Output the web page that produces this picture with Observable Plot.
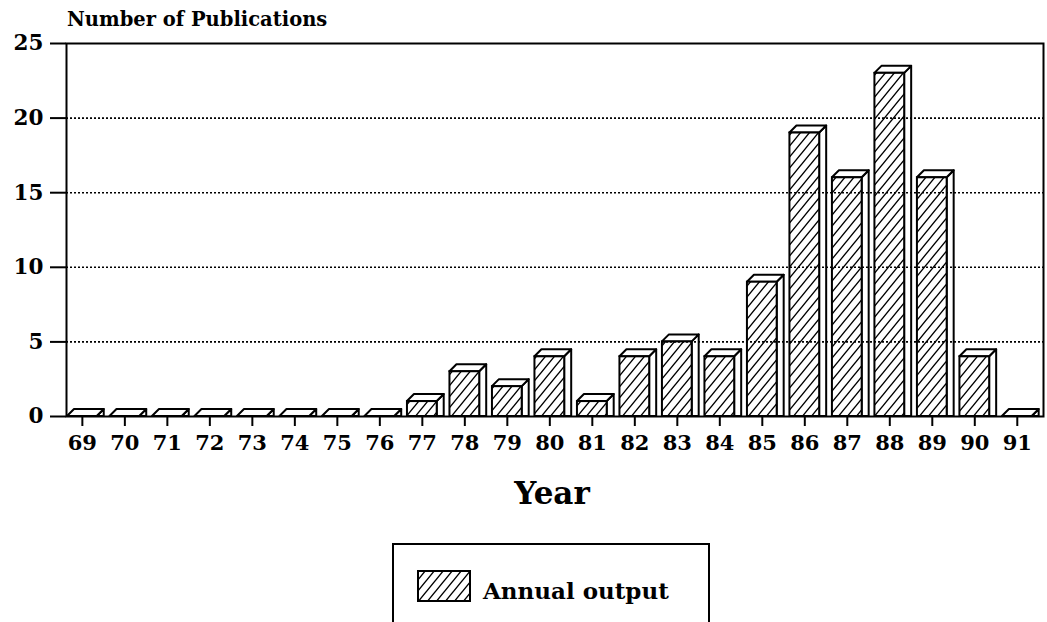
<!DOCTYPE html>
<html><head><meta charset="utf-8">
<script src="https://cdn.jsdelivr.net/npm/d3@7"></script>
<script src="https://cdn.jsdelivr.net/npm/@observablehq/plot@0.6"></script>
<style>
html,body{margin:0;padding:0;background:#fff;}
body{width:1047px;height:622px;overflow:hidden;position:relative;font-family:"DejaVu Serif",serif;font-weight:bold;color:#000;}
#chart{position:absolute;left:0;top:0;}
.lbl{position:absolute;line-height:1;white-space:nowrap;}
#title{left:67px;top:10px;font-size:19.5px;}
#xtitle{left:452px;width:200px;text-align:center;top:478px;font-size:31px;}
#legend{position:absolute;left:392px;top:543px;width:314px;height:120px;border:2px solid #000;}
#swatch{position:absolute;left:417px;top:570px;}
#legendText{left:483px;top:579px;font-size:23px;}
</style></head>
<body>
<div id="chart"></div>
<div id="title" class="lbl"></div>
<div id="xtitle" class="lbl"></div>
<div id="legend"></div>
<svg id="swatch" width="54" height="32"></svg>
<div id="legendText" class="lbl"></div>
<script>
// ---- data ----
const years = ["69","70","71","72","73","74","75","76","77","78","79","80","81","82","83","84","85","86","87","88","89","90","91"];
const counts = [0,0,0,0,0,0,0,0,1,3,2,4,1,4,5,4,9,19,16,23,16,4,0];
const yTicks = [0,5,10,15,20,25];
const gridValues = [5,10,15,20];
const yTitle = "Number of Publications";
const xTitle = "Year";
const seriesLabel = "Annual output";

const data = years.map((year, i) => ({year, count: counts[i]}));
const DEPTH = 7;

function hatchPattern(sel, id) {
  const w = 9, h = 11;
  const p = sel.append("defs").append("pattern")
    .attr("id", id).attr("patternUnits", "userSpaceOnUse")
    .attr("width", w).attr("height", h);
  p.append("rect").attr("width", w).attr("height", h).attr("fill", "white");
  let d = "";
  for (const c of [0, 1, 2]) d += `M${c*w + w},${-h}L${c*w - 2*w},${2*h}`;
  p.append("path").attr("d", d).attr("stroke", "black").attr("stroke-width", 1.4);
}

function depthFaces(index, scales) {
  const {x, y} = scales;
  const bw = x.bandwidth();
  const g = d3.create("svg:g");
  hatchPattern(g, "hatch");
  const y0 = y(0);
  for (const d of data) {
    const x1 = x(d.year), x2 = x1 + bw, yt = y(d.count);
    g.append("path")
      .attr("d", `M${x2},${yt}L${x2+DEPTH},${yt-DEPTH}L${x2+DEPTH},${y0}L${x2},${y0}Z`)
      .attr("fill", "white").attr("stroke", "black").attr("stroke-width", 2).attr("stroke-linejoin", "round");
    g.append("path")
      .attr("d", `M${x1},${yt}L${x1+DEPTH},${yt-DEPTH}L${x2+DEPTH},${yt-DEPTH}L${x2},${yt}Z`)
      .attr("fill", "white").attr("stroke", "black").attr("stroke-width", 2).attr("stroke-linejoin", "round");
  }
  return g.node();
}

const chart = Plot.plot({
  width: 1047,
  height: 622,
  marginLeft: 66,
  marginRight: 4,
  marginTop: 43,
  marginBottom: 206,
  style: {fontFamily: "DejaVu Serif", fontWeight: "bold", fontSize: "21px", color: "black", background: "white"},
  x: {type: "band", domain: years, paddingInner: 0.3, paddingOuter: 0.145, align: 0.08, round: false, label: null},
  y: {domain: [0, 25], label: null},
  marks: [
    depthFaces,
    Plot.barY(data, {x: "year", y: "count", fill: "url(#hatch)", stroke: "black", strokeWidth: 2}),
    Plot.ruleY(gridValues, {stroke: "black", strokeWidth: 1.6, strokeDasharray: "2,2"}),
    Plot.frame({stroke: "black", strokeWidth: 2}),
    Plot.axisY({ticks: yTicks, tickSize: 16, tickPadding: 7, strokeWidth: 2, fontSize: 21.5, label: null}),
    Plot.axisX({tickSize: 10, tickPadding: 9, strokeWidth: 2, fontSize: 21, label: null})
  ]
});
document.getElementById("chart").appendChild(chart);
document.getElementById("title").textContent = yTitle;
document.getElementById("xtitle").textContent = xTitle;
document.getElementById("legendText").textContent = seriesLabel;

const sw = d3.select("#swatch");
hatchPattern(sw, "hatch2");
sw.append("rect").attr("x", 1).attr("y", 1).attr("width", 52).attr("height", 30)
  .attr("fill", "url(#hatch2)").attr("stroke", "black").attr("stroke-width", 2);
</script>
</body></html>
